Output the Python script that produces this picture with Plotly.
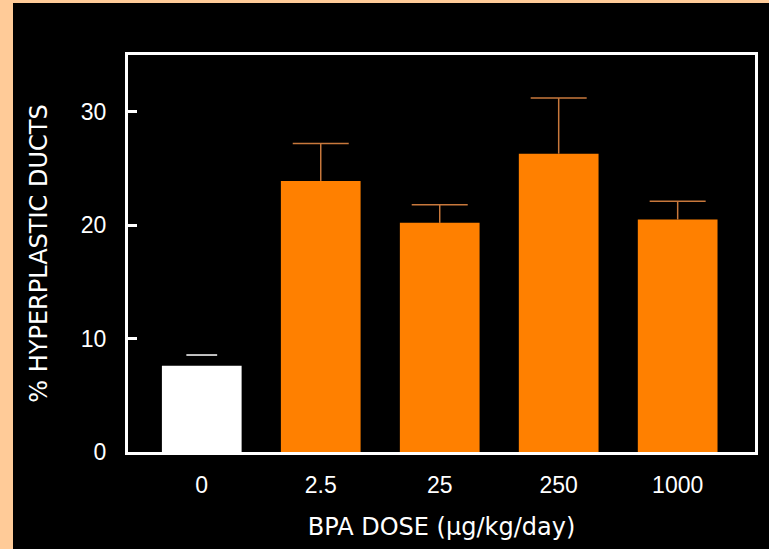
import plotly.graph_objects as go

doses = ["0", "2.5", "25", "250", "1000"]
control_dose = ["0"]
control_value = [7.6]
control_err = [0.95]
bpa_doses = ["2.5", "25", "250", "1000"]
bpa_values = [23.9, 20.2, 26.3, 20.5]
bpa_err = [3.3, 1.6, 4.9, 1.6]

W, H = 769, 549
L, R, T, B = 128, 14, 55, 97

fig = go.Figure()
fig.add_trace(go.Bar(
    x=control_dose, y=control_value, width=0.67,
    marker=dict(color="white", line=dict(width=0)),
    showlegend=False, hoverinfo="skip",
))
fig.add_trace(go.Bar(
    x=bpa_doses, y=bpa_values, width=0.67,
    marker=dict(color="#FF8000", line=dict(width=0)),
    showlegend=False, hoverinfo="skip",
))

# error bar stems (orange bars)
sx, sy = [], []
for d, v, e in zip(bpa_doses, bpa_values, bpa_err):
    sx += [d, d, None]
    sy += [v, v + e, None]
fig.add_trace(go.Scatter(x=sx, y=sy, mode="lines", line=dict(color="#C8783C", width=1.5),
                         showlegend=False, hoverinfo="skip"))
# caps
fig.add_trace(go.Scatter(
    x=bpa_doses, y=[v + e for v, e in zip(bpa_values, bpa_err)], mode="markers",
    marker=dict(symbol="line-ew", size=40, line=dict(color="#C8783C", width=1.5)),
    showlegend=False, hoverinfo="skip"))
fig.add_trace(go.Scatter(
    x=control_dose, y=[v + e for v, e in zip(control_value, control_err)], mode="markers",
    marker=dict(symbol="line-ew", size=22, line=dict(color="white", width=1.5)),
    showlegend=False, hoverinfo="skip"))

pw = W - L - R
ph = H - T - B
peach = "#FFCB98"
fig.add_shape(type="rect", xref="paper", yref="paper", layer="above",
              x0=(0 - L) / pw, x1=(13 - L) / pw, y0=-B / ph - 0.01, y1=(H - B) / ph + 0.01,
              fillcolor=peach, line=dict(width=0))
fig.add_shape(type="rect", xref="paper", yref="paper", layer="above",
              x0=(0 - L) / pw, x1=(W - L) / pw, y0=(H - B - 3) / ph, y1=(H - B) / ph + 0.01,
              fillcolor=peach, line=dict(width=0))

fig.update_layout(
    width=W, height=H,
    margin=dict(l=L, r=R, t=T, b=B),
    paper_bgcolor="black", plot_bgcolor="black",
    barmode="overlay",
    font=dict(family="Liberation Sans, Arial, sans-serif", color="white"),
)
fig.update_xaxes(
    type="category", categoryorder="array", categoryarray=doses,
    range=[-0.62, 4.65],
    showline=True, linecolor="white", linewidth=3, mirror=True,
    ticks="", showgrid=False, zeroline=False,
    ticklabelstandoff=10,
    tickfont=dict(size=23, color="white"),
    title=dict(text="BPA DOSE (µg/kg/day)", standoff=22,
               font=dict(family="DejaVu Sans, sans-serif", size=24, color="white")),
)
fig.update_yaxes(
    range=[0, 35], tickvals=[0, 10, 20, 30],
    showline=True, linecolor="white", linewidth=3, mirror=True,
    ticks="inside", ticklen=9, tickwidth=3, tickcolor="white",
    ticklabelstandoff=14,
    showgrid=False, zeroline=False,
    tickfont=dict(size=23, color="white"),
    title=dict(text="% HYPERPLASTIC DUCTS", standoff=27,
               font=dict(family="DejaVu Sans, sans-serif", size=24, color="white")),
)

fig.write_html("out.html", config={"displayModeBar": False},
               post_script="document.body.style.margin='0';document.body.style.background='black';")
